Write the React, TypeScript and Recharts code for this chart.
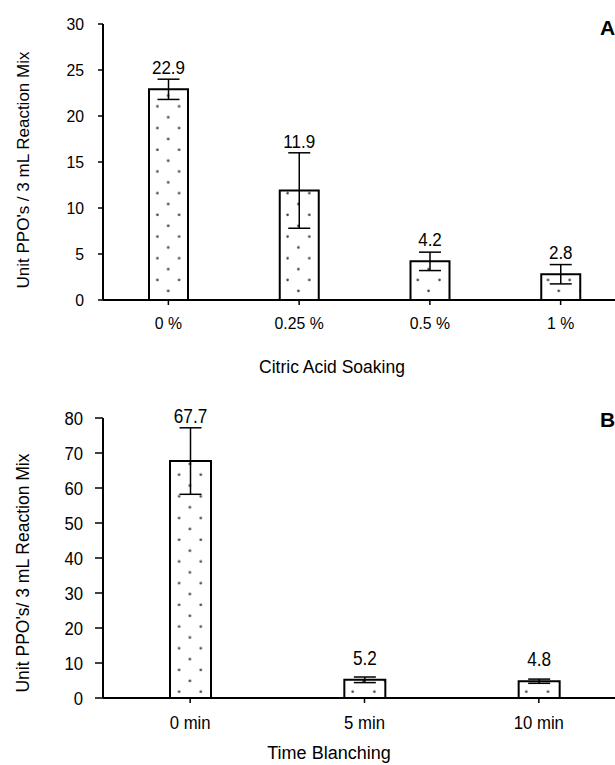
import { BarChart, Bar, XAxis, YAxis, ErrorBar, LabelList } from 'recharts';

// Panel A - citric acid soaking
const soakCategories = ['0 %', '0.25 %', '0.5 %', '1 %'];
const soakValues = [22.9, 11.9, 4.2, 2.8];
const soakErrors = [1.1, 4.1, 1.0, 1.05];
const soakTicks = [0, 5, 10, 15, 20, 25, 30];

// Panel B - blanching time
const blanchCategories = ['0 min', '5 min', '10 min'];
const blanchValues = [67.7, 5.2, 4.8];
const blanchErrors = [9.5, 0.8, 0.6];
const blanchTicks = [0, 10, 20, 30, 40, 50, 60, 70, 80];

const font = '"Liberation Sans", Arial, sans-serif';

const toRows = (cats: string[], vals: number[], errs: number[]) =>
  cats.map((name, i) => ({ name, value: vals[i], err: errs[i] }));

// text squeezed horizontally, to look like the narrow font of the original
const NarrowText = ({ x, y, children, size, sx, anchor = 'middle', dy = '0' }) => (
  <text transform={`translate(${x},${y}) scale(${sx},1)`} textAnchor={anchor} dy={dy}
    fontSize={size} fontFamily={font} fill="#000">
    {children}
  </text>
);

const DotPattern = ({ id }: { id: string }) => (
  <defs>
    <pattern id={id} patternUnits="userSpaceOnUse" width={21.7} height={21.7}>
      <rect width={21.7} height={21.7} fill="#fff" />
      <circle cx={5.5} cy={19.6} r={1.3} fill="#444" />
      <circle cx={16.3} cy={8.8} r={1.3} fill="#444" />
    </pattern>
  </defs>
);

const Panel = ({ rows, ticks, max, yTitle, xTitle, width, height, margin, barSize, patternId,
  tickSize, tickSx, labelSize, labelSx, titleSize, yTitleSize, yTickMargin, yTickSize,
  xTitleDy, xTitleDx, yTitleDy, xTickMargin }) => {
  const valueLabel = (p) => {
    const { x, y, width: w, height: h, value, index } = p;
    const ppu = h / value;
    const errTop = y - rows[index].err * ppu;
    const bottom = Math.min(y - 15, errTop - 5);
    return <NarrowText x={x + w / 2} y={bottom} size={labelSize} sx={labelSx}>{value}</NarrowText>;
  };
  const xTick = ({ x, y, payload }) => (
    <NarrowText x={x} y={y} dy="0.71em" size={tickSize} sx={tickSx}>{payload.value}</NarrowText>
  );
  const yTick = ({ x, y, payload }) => (
    <NarrowText x={x} y={y} dy="0.36em" anchor="end" size={tickSize} sx={tickSx}>{payload.value}</NarrowText>
  );
  return (
    <BarChart width={width} height={height} data={rows} margin={margin} barCategoryGap={0}>
      <DotPattern id={patternId} />
      <XAxis
        dataKey="name"
        height={50}
        axisLine={{ stroke: '#000', strokeWidth: 2 }}
        tickLine={{ stroke: '#000', strokeWidth: 1.5 }}
        tickSize={5}
        tickMargin={xTickMargin}
        tick={xTick}
        label={{
          content: ({ viewBox }) => (
            <text x={viewBox.x + xTitleDx} y={viewBox.y + xTitleDy} textAnchor="middle"
              fontSize={titleSize} fontFamily={font} fill="#000">{xTitle}</text>
          ),
        }}
      />
      <YAxis
        width={103}
        domain={[0, max]}
        ticks={ticks}
        interval={0}
        axisLine={{ stroke: '#000', strokeWidth: 2 }}
        tickLine={{ stroke: '#000', strokeWidth: 1.5 }}
        tickSize={yTickSize}
        tickMargin={yTickMargin}
        tick={yTick}
        label={{
          content: ({ viewBox }) => {
            const cx = viewBox.x + 23;
            const cy = viewBox.y + viewBox.height / 2 + yTitleDy;
            return (
              <text x={cx} y={cy} transform={`rotate(-90 ${cx} ${cy})`} textAnchor="middle"
                dominantBaseline="central" fontSize={yTitleSize} fontFamily={font} fill="#000">{yTitle}</text>
            );
          },
        }}
      />
      <Bar dataKey="value" barSize={barSize} fill={`url(#${patternId})`} stroke="#000" strokeWidth={2}
        isAnimationActive={false}>
        <ErrorBar dataKey="err" direction="y" width={11} stroke="#000" strokeWidth={1.5} />
        <LabelList dataKey="value" content={valueLabel} />
      </Bar>
    </BarChart>
  );
};

export default function App() {
  return (
    <div style={{ position: 'absolute', left: 0, top: 0, width: 615, height: 765, overflow: 'hidden', background: '#fff' }}>
      <div style={{ position: 'absolute', left: 0, top: 0 }}>
        <Panel
          rows={toRows(soakCategories, soakValues, soakErrors)}
          ticks={soakTicks}
          max={30}
          yTitle="Unit PPO's / 3 mL Reaction  Mix"
          xTitle="Citric Acid Soaking"
          width={640}
          height={390}
          margin={{ top: 24, right: 14, left: 0, bottom: 40 }}
          barSize={39}
          patternId="dotsA"
          tickSize={17}
          tickSx={0.93}
          labelSize={18.5}
          labelSx={0.92}
          titleSize={17.5}
          yTitleSize={17}
          yTickSize={5}
          yTickMargin={14}
          xTickMargin={12}
          xTitleDy={73}
          xTitleDx={229}
          yTitleDy={8}
        />
      </div>
      <div style={{ position: 'absolute', left: 0, top: 390 }}>
        <Panel
          rows={toRows(blanchCategories, blanchValues, blanchErrors)}
          ticks={blanchTicks}
          max={80}
          yTitle="Unit PPO's/ 3 mL Reaction Mix"
          xTitle="Time Blanching"
          width={640}
          height={375}
          margin={{ top: 28, right: 14, left: 0, bottom: 17 }}
          barSize={41}
          patternId="dotsB"
          tickSize={19}
          tickSx={0.88}
          labelSize={20}
          labelSx={0.86}
          titleSize={18}
          yTitleSize={17.5}
          yTickSize={8}
          yTickMargin={12}
          xTickMargin={12}
          xTitleDy={61}
          xTitleDx={226}
          yTitleDy={15}
        />
      </div>
      <svg width={615} height={765} style={{ position: 'absolute', left: 0, top: 0, pointerEvents: 'none' }}>
        <text x={600} y={35} fontSize={21} fontWeight="bold" fontFamily={font}>A</text>
        <text x={600} y={427} fontSize={21} fontWeight="bold" fontFamily={font}>B</text>
      </svg>
    </div>
  );
}
